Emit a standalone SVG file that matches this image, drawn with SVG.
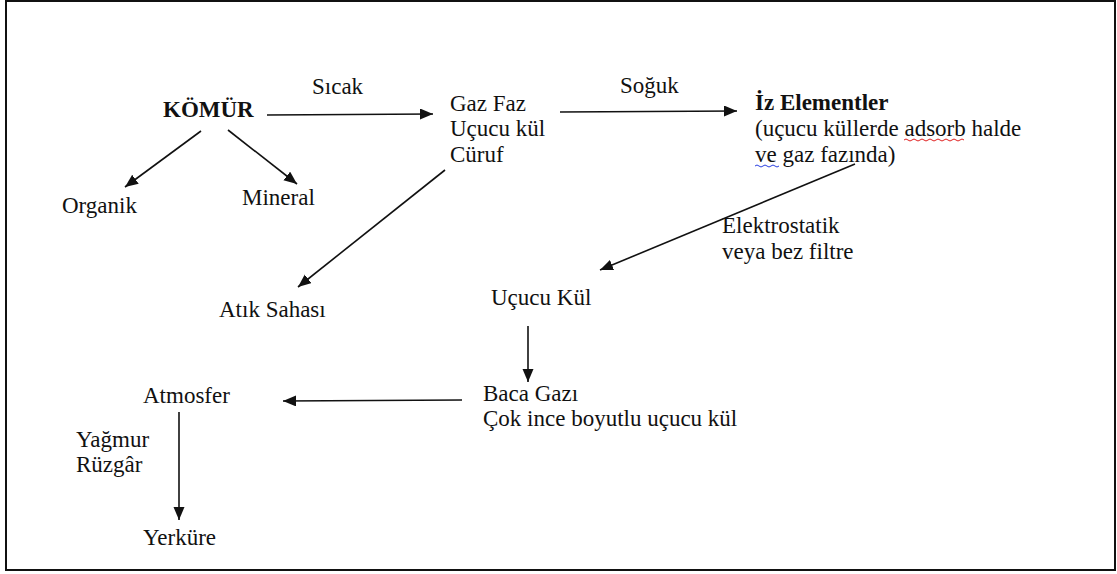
<svg xmlns="http://www.w3.org/2000/svg" width="1117" height="574" viewBox="0 0 1117 574">
<style>
text{font-family:'Liberation Serif',Tinos,'Times New Roman','DejaVu Serif',serif;font-size:23px;fill:#111}
.b{font-weight:bold}
.c{stroke:#111;stroke-width:1.6;fill:none}
.sq{fill:none;stroke-width:1}
</style>
<defs>
<marker id="ah" markerUnits="userSpaceOnUse" markerWidth="14" markerHeight="12" refX="13" refY="5.5" orient="auto">
<path d="M0,0 L13,5.5 L0,11 z" fill="#111"/>
</marker>
</defs>
<rect x="6" y="1" width="1109" height="569" fill="#fff" stroke="#111" stroke-width="2"/>
<g id="connectors">
<line class="c" x1="267" y1="115" x2="433" y2="114" marker-end="url(#ah)"/>
<line class="c" x1="560" y1="112" x2="737" y2="111" marker-end="url(#ah)"/>
<line class="c" x1="201" y1="131" x2="125" y2="187" marker-end="url(#ah)"/>
<line class="c" x1="228" y1="130" x2="297" y2="184" marker-end="url(#ah)"/>
<line class="c" x1="445" y1="170" x2="298" y2="287" marker-end="url(#ah)"/>
<line class="c" x1="855" y1="164" x2="600" y2="270" marker-end="url(#ah)"/>
<line class="c" x1="528" y1="326" x2="528" y2="382" marker-end="url(#ah)"/>
<line class="c" x1="462" y1="400" x2="283" y2="401" marker-end="url(#ah)"/>
<line class="c" x1="179" y1="412" x2="179" y2="520" marker-end="url(#ah)"/>
</g>
<g id="komur"><text class="b" x="163" y="117">KÖMÜR</text></g>
<g id="sicak"><text x="312" y="94">Sıcak</text></g>
<g id="gazfaz"><text x="450" y="111">Gaz Faz</text><text x="450" y="136">Uçucu kül</text><text x="450" y="162">Cüruf</text></g>
<g id="soguk"><text x="620" y="93">Soğuk</text></g>
<g id="izelementler"><text class="b" x="755" y="110">İz Elementler</text><text x="755" y="136">(uçucu küllerde adsorb halde</text><text x="755" y="162">ve gaz fazında)</text>
<path class="sq" stroke="#e02020" d="M904,140 q2,-2 4,0 t4,0 t4,0 t4,0 t4,0 t4,0 t4,0 t4,0 t4,0 t4,0 t4,0 t4,0 t4,0 t4,0 t4,0"/>
<path class="sq" stroke="#2a3fe0" d="M755,166 q2,-2 4,0 t4,0 t4,0 t4,0 t4,0 t4,0"/>
</g>
<g id="organik"><text x="62" y="213">Organik</text></g>
<g id="mineral"><text x="242" y="205">Mineral</text></g>
<g id="atik"><text x="219" y="317">Atık Sahası</text></g>
<g id="elektro"><text x="722" y="233">Elektrostatik</text><text x="722" y="259">veya bez filtre</text></g>
<g id="ucucukul"><text x="491" y="305">Uçucu Kül</text></g>
<g id="baca"><text x="483" y="401">Baca Gazı</text><text x="483" y="426">Çok ince boyutlu uçucu kül</text></g>
<g id="atmosfer"><text x="143" y="403">Atmosfer</text></g>
<g id="yagmur"><text x="76" y="447">Yağmur</text><text x="76" y="472">Rüzgâr</text></g>
<g id="yerkure"><text x="143" y="545">Yerküre</text></g>
</svg>
